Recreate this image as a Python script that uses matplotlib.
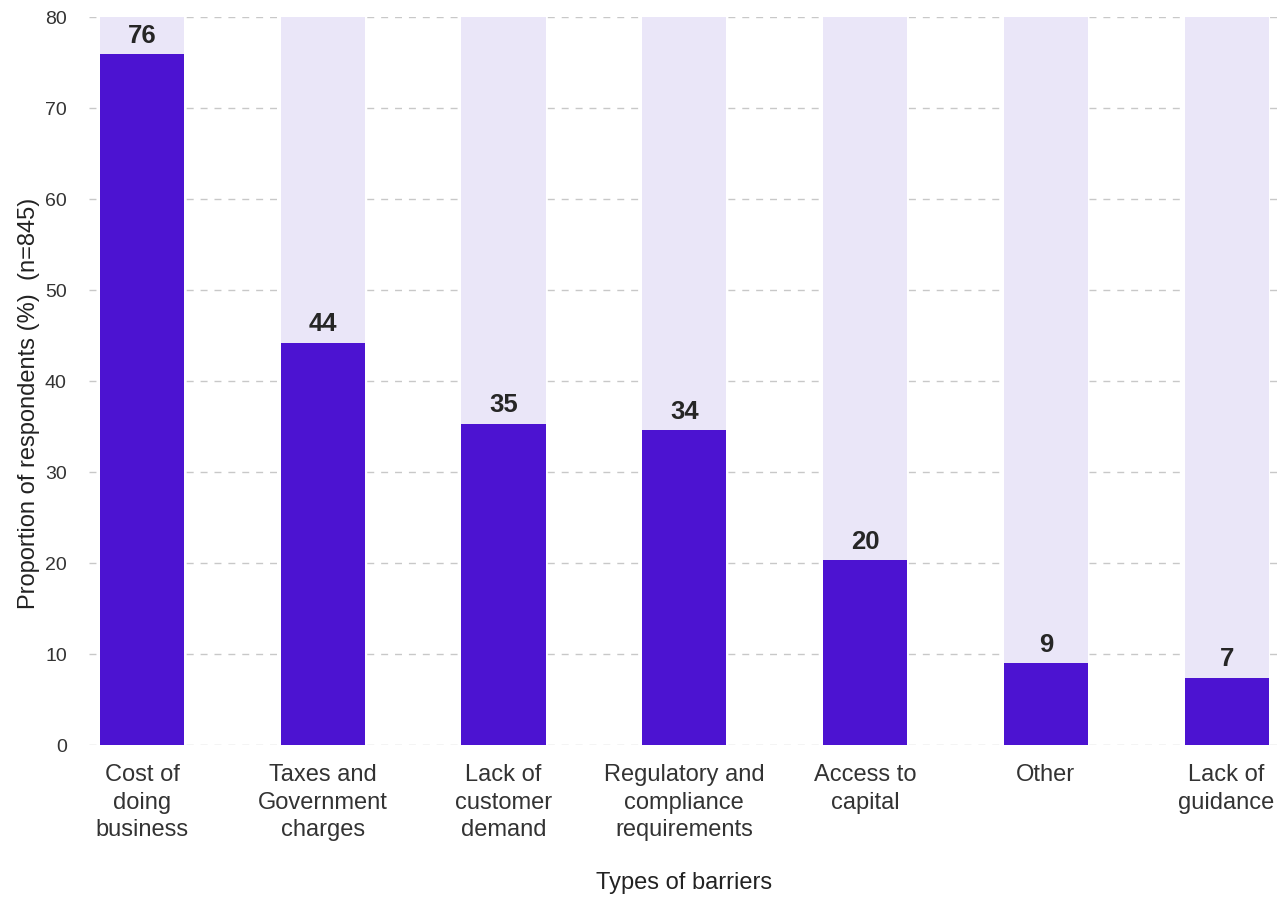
import matplotlib.pyplot as plt
import numpy as np

categories = ['Cost of\ndoing\nbusiness', 'Taxes and\nGovernment\ncharges', 'Lack of\ncustomer\ndemand',
              'Regulatory and\ncompliance\nrequirements', 'Access to\ncapital', 'Other', 'Lack of\nguidance']
values = [75.9, 44.2, 35.3, 34.6, 20.3, 9.0, 7.4]
labels = ['76', '44', '35', '34', '20', '9', '7']
y_max = 80

plt.rcParams['font.family'] = ['Liberation Sans', 'DejaVu Sans']

fig = plt.figure(figsize=(12.79, 8.99), dpi=100)
ax = fig.add_axes([0.0696, 0.1713, 0.9304, 0.8097])

x = np.arange(len(categories))
w = 0.465
ax.bar(x, [y_max] * len(x), width=w, color='#EAE6F8', zorder=1)
ax.bar(x, values, width=w, color='#4C13D1', zorder=2)
for xi, v, lab in zip(x, values, labels):
    ax.text(xi, v + 0.7, lab, ha='center', va='bottom', fontsize=18.5, fontweight='bold', color='#262626', zorder=3)

ax.set_xlim(-0.293, 6.29)
ax.set_ylim(0, y_max)
ax.set_yticks(range(0, 81, 10))
ax.set_xticks(x)
ax.set_xticklabels(categories, fontsize=17, color='#333333', linespacing=1.32)
ax.tick_params(axis='y', labelsize=14, colors='#333333', length=0, pad=16)
ax.tick_params(axis='x', length=0, pad=14)
ax.yaxis.grid(True, color='#c8c8c8', linestyle=(0, (5, 5)), linewidth=1, zorder=0)
ax.set_axisbelow(True)
for s in ax.spines.values():
    s.set_visible(False)

ax.set_ylabel('Proportion of respondents (%)  (n=845)', fontsize=17, color='#222222')
ax.yaxis.set_label_coords(-0.041, 0.47)
ax.set_xlabel('Types of barriers', fontsize=17, color='#222222', labelpad=22)

fig.savefig('out.png', dpi=100)
